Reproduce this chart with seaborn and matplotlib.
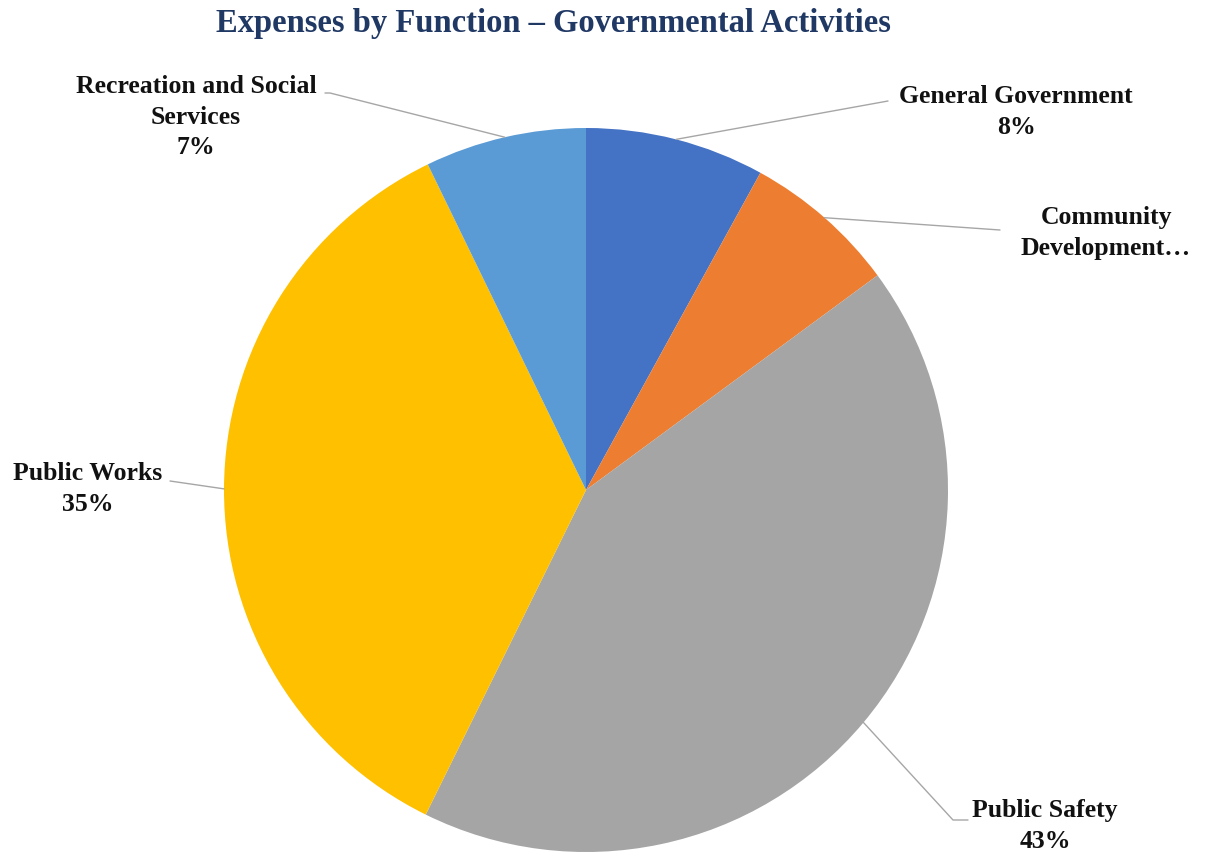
import matplotlib
matplotlib.use("Agg")
import matplotlib.pyplot as plt
import seaborn as sns
import numpy as np

sns.set_theme(style="white")
plt.rcParams['font.family'] = ['Liberation Serif', 'DejaVu Serif']

categories = ["General Government", "Community Development", "Public Safety",
              "Public Works", "Recreation and Social Services"]
values = [8.0, 6.9, 42.4, 35.5, 7.2]
label_texts = ["General Government\n8%", "Community\nDevelopment…", "Public Safety\n43%",
               "Public Works\n35%", "Recreation and Social\nServices\n7%"]
colors = ["#4472C4", "#ED7D31", "#A5A5A5", "#FFC000", "#5B9BD5"]

W, H = 1214, 856
fig = plt.figure(figsize=(W / 100, H / 100), dpi=100)
ax = fig.add_axes([0, 0, 1, 1])

cx, cy, R = 586, H - 490, 362
wedges, _ = ax.pie(values, colors=colors, startangle=90, counterclock=False,
                   center=(cx, cy), radius=R, frame=True,
                   wedgeprops=dict(linewidth=0))
ax.set_xlim(0, W)
ax.set_ylim(0, H)
ax.set_aspect('equal')
ax.axis('off')

# label anchors (pixel positions, top-left origin) and leader line elbows
label_pos = [(1016, 112), (1106, 233), (1045, 826), (88, 489), (196, 117)]
elbows = [(888, 101), (1000, 230), (968, 820), (170, 481), (325, 93)]
knees = [None, None, (953, 820), None, (330, 93)]

total = sum(values)
cum = 0
for i, v in enumerate(values):
    mid = (cum + v / 2) / total * 360.0
    cum += v
    theta = np.deg2rad(90 - mid)
    px = cx + R * np.cos(theta)
    py = cy + R * np.sin(theta)
    pts = [(px, py)]
    if knees[i] is not None:
        pts.append((knees[i][0], H - knees[i][1]))
    pts.append((elbows[i][0], H - elbows[i][1]))
    xs, ys = zip(*pts)
    ax.plot(xs, ys, color="#A6A6A6", lw=1.0, zorder=1)
    lx, ly = label_pos[i]
    ax.text(lx, H - ly, label_texts[i], ha='center', va='center', fontsize=18.5,
            fontweight='bold', color='#111111', linespacing=1.42)

ax.text(553, H - 23, "Expenses by Function – Governmental Activities",
        ha='center', va='center', fontsize=23.5, fontweight='bold', color='#203864')

fig.savefig("out.png", dpi=100)
